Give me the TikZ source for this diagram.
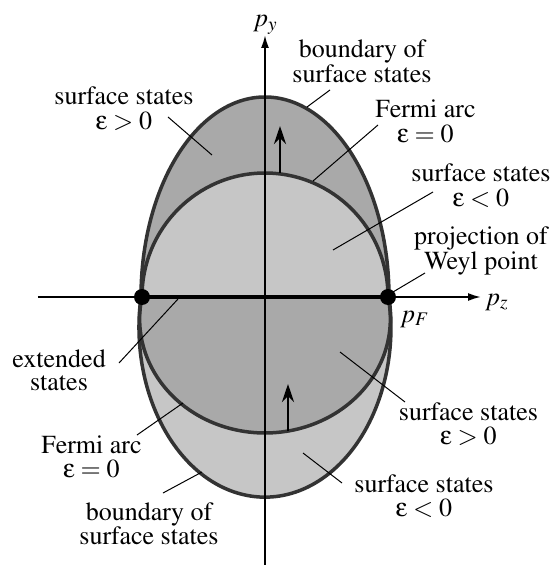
\documentclass[tikz,border=0pt]{standalone}
\usepackage[T1]{fontenc}
\usepackage{mathptmx}
\usepackage[Symbol]{upgreek}
\usetikzlibrary{arrows.meta}
\definecolor{darkfill}{HTML}{A9A9A9}
\definecolor{lightfill}{HTML}{C6C6C6}
\definecolor{curvegray}{HTML}{333333}
\newcommand{\twol}[2]{\begin{tabular}[t]{@{}c@{}}#1\\#2\end{tabular}}
\newcommand{\eps}{\upvarepsilon}
\begin{document}
\begin{tikzpicture}[x=1pt,y=1pt,
  lbl/.style={inner sep=0pt, anchor=base, font=\fontsize{26}{23.5}\selectfont},
  axlbl/.style={inner sep=0pt, anchor=base west, font=\fontsize{26}{26}\selectfont},
  leader/.style={line width=1pt},
  bound/.style={draw=curvegray, line width=3.5pt},
  axisline/.style={line width=1.8pt, -{Latex[length=13pt,width=8pt]}},
  push/.style={line width=2.8pt, -{Stealth[length=18pt,width=12pt]}},
  weyl/.style={circle, fill=black, inner sep=0pt, minimum size=16pt}]
\useasboundingbox (-265,-268) rectangle (290,297);
% fills
\fill[darkfill] (124,0) arc[start angle=0,end angle=180,x radius=124,y radius=200] -- cycle;
\fill[lightfill] (123,0) arc[start angle=0,end angle=180,x radius=123,y radius=124] -- cycle;
\fill[lightfill] (-124,0) arc[start angle=169.78,end angle=370.22,x radius=126,y radius=170] -- cycle;
\fill[darkfill] (-123,0) arc[start angle=168.88,end angle=371.12,x radius=125.35,y radius=114] -- cycle;
% curves
\draw[bound] (123,0) arc[start angle=0,end angle=180,x radius=123,y radius=124];
\draw[bound] (-123,0) arc[start angle=168.88,end angle=371.12,x radius=125.35,y radius=114];
\draw[bound] (124,0) arc[start angle=0,end angle=180,x radius=124,y radius=200]
  arc[start angle=169.78,end angle=370.22,x radius=126,y radius=170] -- cycle;
% axes
\coordinate (xl) at (-227,0);
\coordinate (xr) at (216,0);
\coordinate (yb) at (0,-268);
\coordinate (yt) at (0,262);
\draw[axisline] (xl) -- (xr);
\draw[axisline] (yb) -- (yt);
\node[weyl] (wl) at (-123,0) {};
\node[weyl] (wr) at (123,0) {};
\draw[line width=4pt] (wl.center) -- (wr.center);
% arrows
\coordinate (a1s) at (15,124);
\coordinate (a1e) at (15,171);
\coordinate (a2s) at (23,-134);
\coordinate (a2e) at (23,-87);
\draw[push] (a1s) -- (a1e);
\draw[push] (a2s) -- (a2e);
% axis labels
\node[axlbl] (py) at (-12,270) {$p_y$};
\node[axlbl] (pz) at (220,-8) {$p_z$};
\node[axlbl] (pf) at (135,-25) {$p_F$};
% labels
\node[lbl] (l1) at (-141,192) {\twol{surface states}{$\eps > 0$}};
\node[lbl] (l2) at (97,239) {\twol{boundary of}{surface states}};
\node[lbl] (l3) at (160.5,179) {\twol{Fermi arc}{$\eps = 0$}};
\node[lbl] (l4) at (216,115) {\twol{surface states}{$\eps < 0$}};
\node[lbl] (l5) at (216,52) {\twol{projection of}{Weyl point}};
\node[lbl] (l6) at (-206,-70) {\twol{extended}{states}};
\node[lbl] (l7) at (-173.5,-156) {\twol{Fermi arc}{$\eps = 0$}};
\node[lbl] (l8) at (-116,-223) {\twol{boundary of}{surface states}};
\node[lbl] (l9) at (203.5,-123) {\twol{surface states}{$\eps > 0$}};
\node[lbl] (l10) at (159,-195) {\twol{surface states}{$\eps < 0$}};
% leaders
\coordinate (c1a) at (-97,180); \coordinate (c1b) at (-53,142);
\coordinate (c2a) at (42,190); \coordinate (c2b) at (65,207);
\coordinate (c3a) at (48,116); \coordinate (c3b) at (113,172);
\coordinate (c4a) at (68,47); \coordinate (c4b) at (168,105);
\coordinate (c5a) at (128,5); \coordinate (c5b) at (160,24);
\coordinate (c6a) at (-146,-66); \coordinate (c6b) at (-87,-2);
\coordinate (c7a) at (-128,-138); \coordinate (c7b) at (-82,-106);
\coordinate (c8a) at (-102,-196); \coordinate (c8b) at (-63,-175);
\coordinate (c9a) at (75,-55); \coordinate (c9b) at (140,-105);
\coordinate (c10a) at (38,-156); \coordinate (c10b) at (77,-186);
\foreach \i in {1,...,10} {\draw[leader] (c\i a) -- (c\i b);}
\end{tikzpicture}
\end{document}
